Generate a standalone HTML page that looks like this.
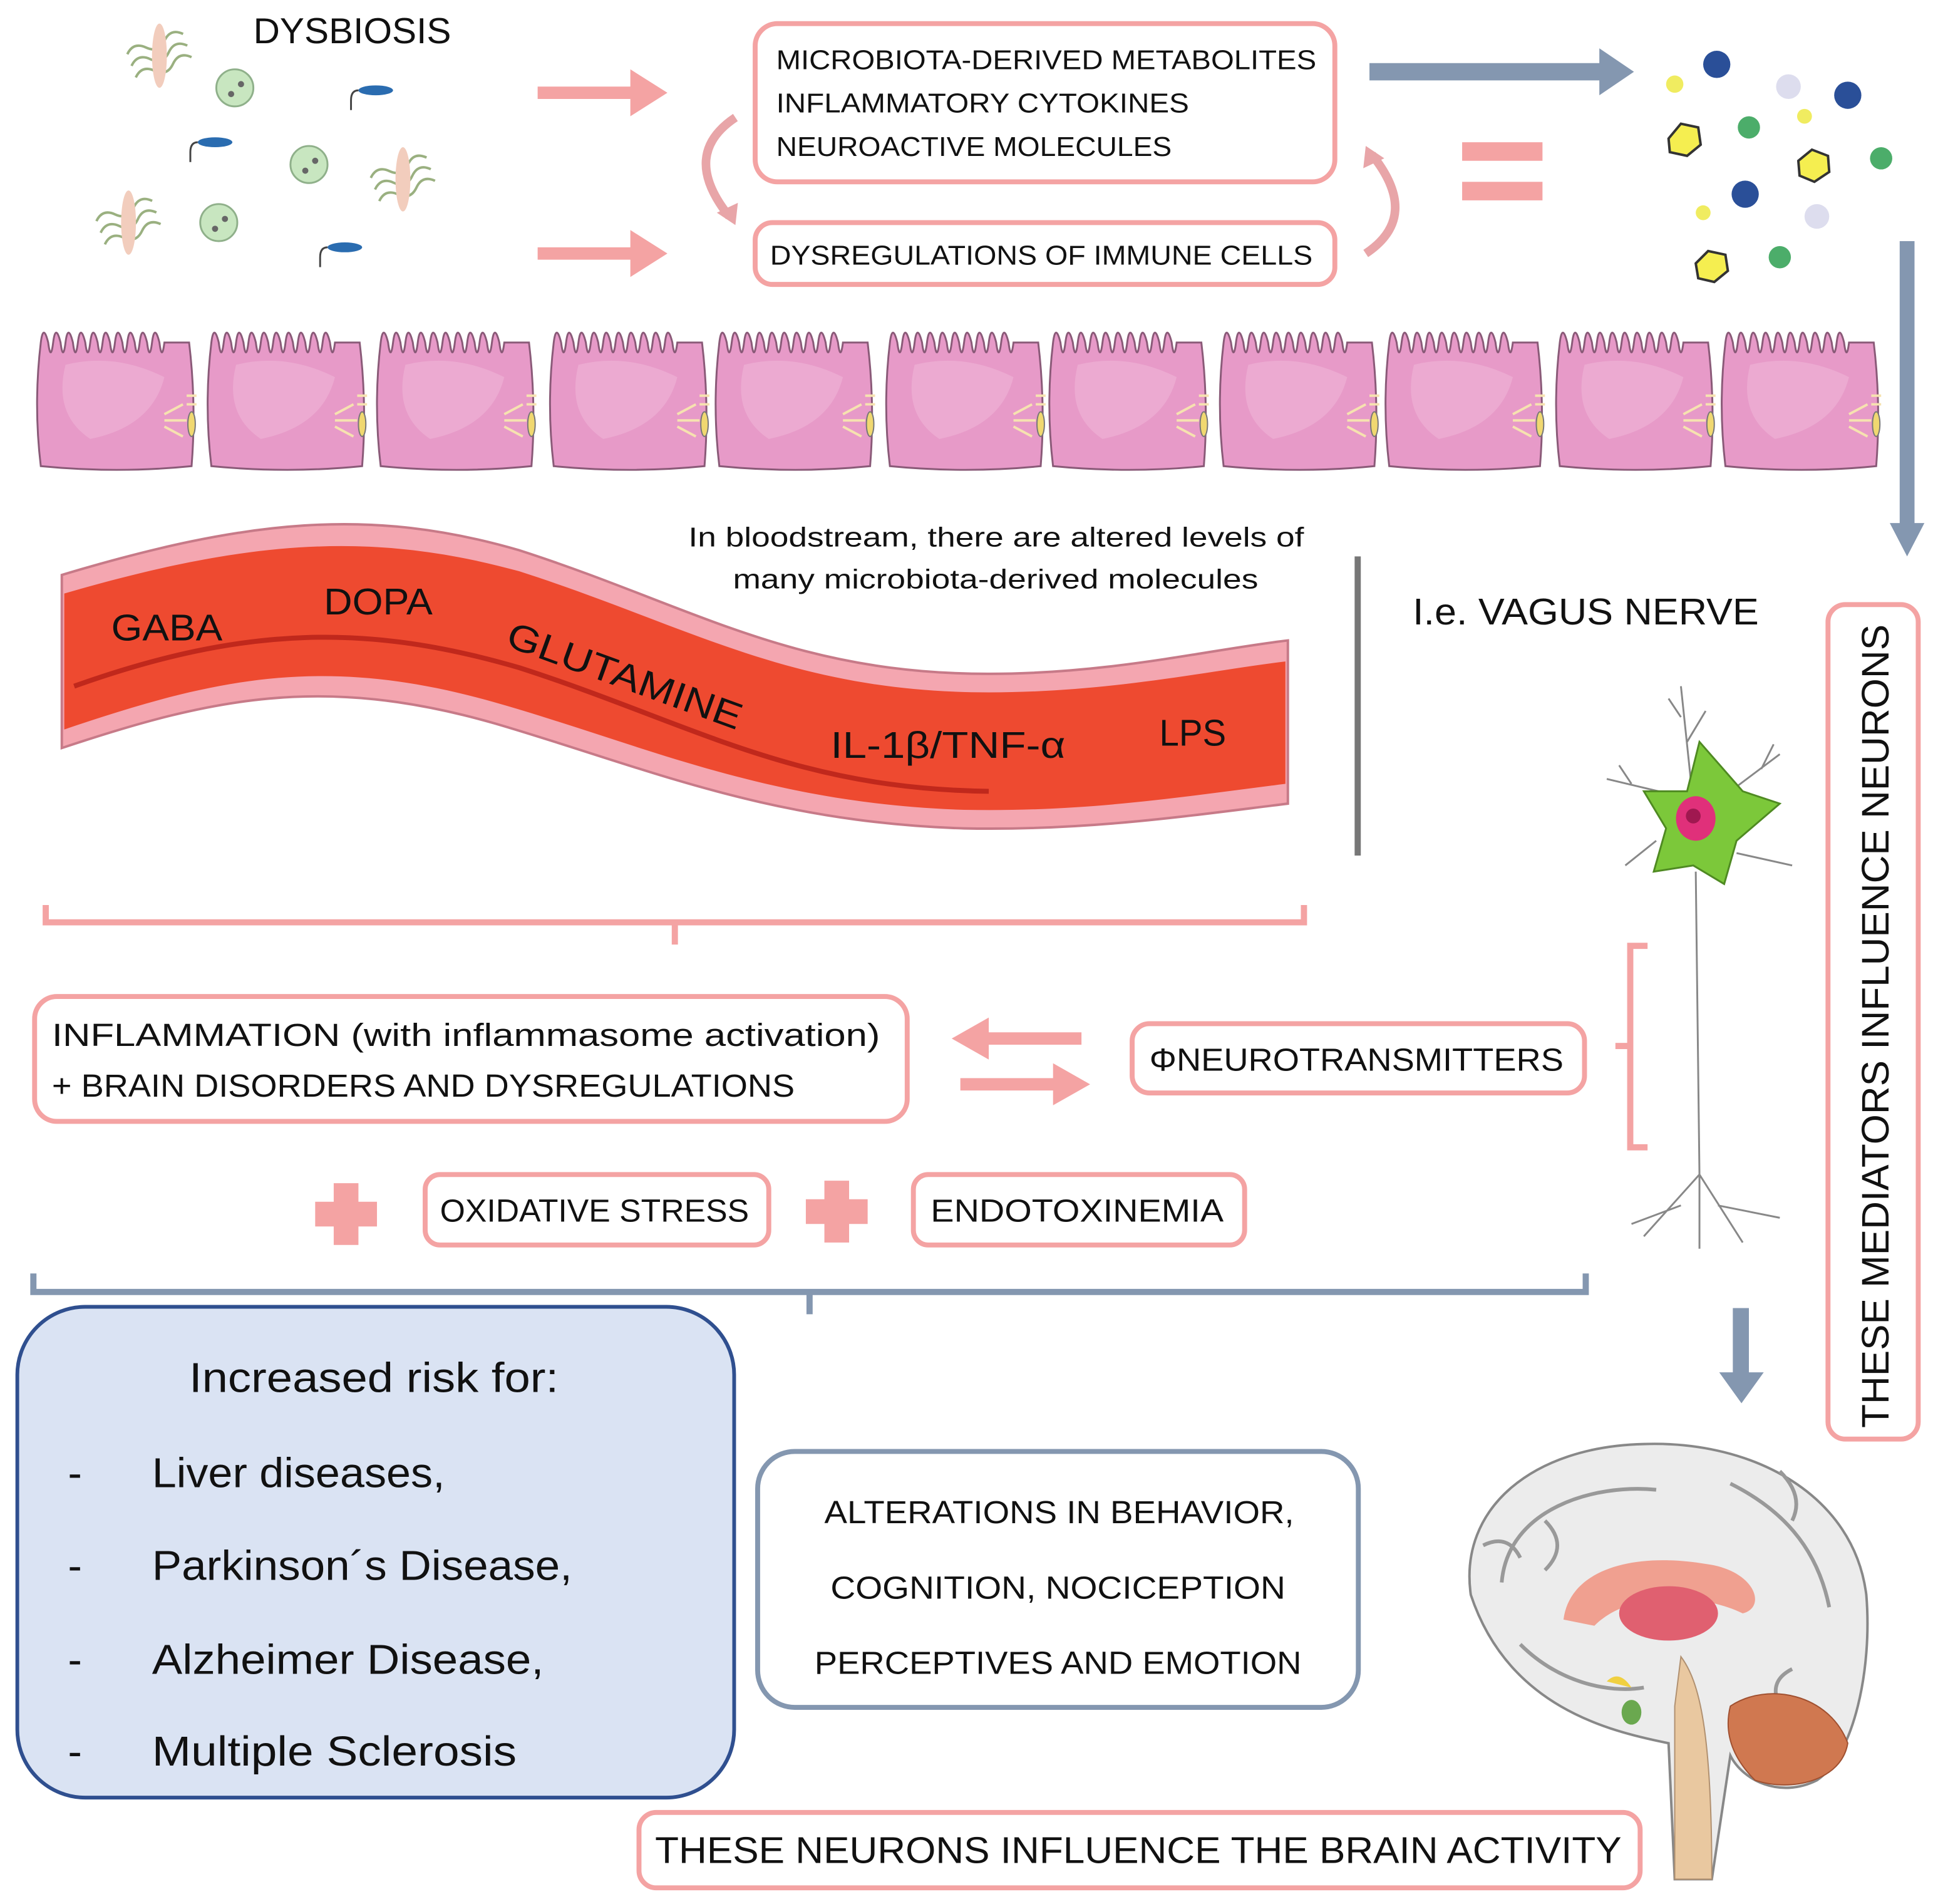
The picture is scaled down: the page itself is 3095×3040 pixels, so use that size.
<!DOCTYPE html>
<html><head><meta charset="utf-8"><style>
html,body{margin:0;padding:0;background:#fff}
svg{display:block}
text{font-family:"Liberation Sans",sans-serif;fill:#111}
</style></head><body>
<svg width="3095" height="3040" viewBox="0 0 1568 1540" xmlns="http://www.w3.org/2000/svg">
<defs>
<g id="cell">
<path d="M0,22 q2,-16 6,0 q2,16 4,0 q2,-16 6,0 q2,16 4,0 q2,-16 6,0 q2,16 4,0 q2,-16 6,0 q2,16 4,0 q2,-16 6,0 q2,16 4,0 q2,-16 6,0 q2,16 4,0 q2,-16 6,0 q2,16 4,0 q2,-16 6,0 q2,16 4,0 q2,-16 6,0 q2,16 4,0 q2,-16 6,0 q2,16 4,0 L120,22 q6,50 2,100 q-60,6 -122,0 q-6,-50 0,-100z" fill="#e79ac8" stroke="#8a5a78" stroke-width="1.5"/>
<path d="M20,40 q40,-10 80,10 q-10,40 -60,50 q-30,-20 -20,-60z" fill="#eeb0d4" opacity="0.7"/>
<path d="M100,80 l15,-8 M100,85 l18,0 M100,90 l15,8 M118,65 h8 M118,72 h8" stroke="#f6e2b0" stroke-width="2"/>
<ellipse cx="122" cy="88" rx="3" ry="10" fill="#f0d870" stroke="#777"/>
</g>
<g id="bac1"><path d="M0,0 q8,-8 16,0 q8,8 16,0 q8,-8 16,0 M0,10 q8,-8 16,0 q8,8 16,0 q8,-8 16,0 M0,20 q8,-8 16,0 q8,8 16,0 q8,-8 16,0" fill="none" stroke="#9ab080" stroke-width="2" transform="rotate(-20 24 10)"/><ellipse cx="24" cy="10" rx="6" ry="26" fill="#f2cdbd"/></g>
<g id="bac2"><circle r="15" fill="#c8e6c0" stroke="#8fb08a" stroke-width="1.5"/><circle cx="5" cy="-3" r="2.5" fill="#666"/><circle cx="-3" cy="5" r="2.5" fill="#666"/></g>
<g id="bac3"><path d="M0,0 q-6,0 -6,8 v8" fill="none" stroke="#444" stroke-width="1.5"/><ellipse cx="14" cy="0" rx="14" ry="4" fill="#2a6cb0"/></g>
</defs>

<use href="#bac1" x="105" y="35"/><use href="#bac1" x="302" y="135"/><use href="#bac1" x="80" y="170"/>
<use href="#bac2" x="190" y="71"/><use href="#bac2" x="250" y="133"/><use href="#bac2" x="177" y="180"/>
<use href="#bac3" x="290" y="73"/><use href="#bac3" x="160" y="115"/><use href="#bac3" x="265" y="200"/>
<text x="205" y="35" font-size="29" textLength="160" lengthAdjust="spacingAndGlyphs">DYSBIOSIS</text>

<path d="M435,70 h75 v-14 l30,19 -30,19 v-14 h-75z" fill="#f4a3a3"/>
<path d="M435,200 h75 v-14 l30,19 -30,19 v-14 h-75z" fill="#f4a3a3"/>

<rect x="611" y="19" width="469" height="128" rx="18" fill="#fff" stroke="#f4a3a3" stroke-width="4"/>
<text x="628" y="56" font-size="22" textLength="437" lengthAdjust="spacingAndGlyphs">MICROBIOTA-DERIVED METABOLITES</text>
<text x="628" y="91" font-size="22" textLength="334" lengthAdjust="spacingAndGlyphs">INFLAMMATORY CYTOKINES</text>
<text x="628" y="126" font-size="22" textLength="320" lengthAdjust="spacingAndGlyphs">NEUROACTIVE MOLECULES</text>
<rect x="611" y="180" width="469" height="50" rx="14" fill="#fff" stroke="#f4a3a3" stroke-width="4"/>
<text x="623" y="214" font-size="22" textLength="439" lengthAdjust="spacingAndGlyphs">DYSREGULATIONS OF IMMUNE CELLS</text>
<path d="M595,95 q-45,30 -5,80" fill="none" stroke="#e8a5a8" stroke-width="7"/>
<path d="M580,172 l15,10 2,-18z" fill="#e8a5a8"/>
<path d="M1105,205 q45,-30 5,-80" fill="none" stroke="#e8a5a8" stroke-width="7"/>
<path d="M1120,128 l-15,-10 -2,18z" fill="#e8a5a8"/>

<path d="M1108,51 h186 v-12 l28,19 -28,19 v-12 h-186z" fill="#8497b0"/>
<rect x="1183" y="115" width="65" height="15" fill="#f4a3a3"/><rect x="1183" y="147" width="65" height="15" fill="#f4a3a3"/>

<circle cx="1389" cy="52" r="11" fill="#2a4f98"/><circle cx="1355" cy="68" r="7" fill="#f0ec60"/>
<circle cx="1447" cy="70" r="10" fill="#dde"/><circle cx="1495" cy="77" r="11" fill="#2a4f98"/>
<circle cx="1460" cy="94" r="6" fill="#f0ec60"/><circle cx="1415" cy="103" r="9" fill="#4cad6a"/>
<polygon points="1350,112 1360,100 1374,103 1376,117 1365,126 1351,123" fill="#f5ee50" stroke="#333" stroke-width="2"/>
<polygon points="1455,130 1466,121 1479,126 1480,139 1468,147 1456,142" fill="#f5ee50" stroke="#333" stroke-width="2"/>
<circle cx="1522" cy="128" r="9" fill="#4cad6a"/><circle cx="1412" cy="157" r="11" fill="#2a4f98"/>
<circle cx="1470" cy="175" r="10" fill="#dde"/><circle cx="1378" cy="172" r="6" fill="#f0ec60"/>
<polygon points="1372,213 1382,203 1396,206 1398,219 1387,228 1374,225" fill="#f5ee50" stroke="#333" stroke-width="2"/>
<circle cx="1440" cy="208" r="9" fill="#4cad6a"/>

<path d="M1537,195 h12 v228 h8 l-14,27 -14,-27 h8z" fill="#8497b0"/>

<g>
<use href="#cell" x="33" y="255"/><use href="#cell" x="171" y="255"/><use href="#cell" x="308" y="255"/>
<use href="#cell" x="448" y="255"/><use href="#cell" x="582" y="255"/><use href="#cell" x="720" y="255"/>
<use href="#cell" x="852" y="255"/><use href="#cell" x="990" y="255"/><use href="#cell" x="1124" y="255"/>
<use href="#cell" x="1262" y="255"/><use href="#cell" x="1396" y="255"/>
</g>

<path d="M50,465 C200,420 300,410 420,445 C560,490 640,545 800,545 C900,545 980,525 1042,518 L1042,650 C960,660 880,672 780,670 C620,665 520,620 400,585 C260,545 170,565 50,605z" fill="#f4a6b0" stroke="#c77a88" stroke-width="2"/>
<path d="M52,480 C200,437 300,429 420,462 C560,507 640,560 800,560 C900,560 980,542 1040,535 L1040,634 C960,644 880,657 780,655 C620,650 520,602 400,568 C260,528 170,550 52,590z" fill="#ee4a30"/>
<path d="M60,555 C200,505 300,505 420,540 C560,585 640,638 800,640" fill="none" stroke="#c0281c" stroke-width="4"/>
<text x="90" y="518" font-size="30" textLength="90" lengthAdjust="spacingAndGlyphs">GABA</text>
<text x="262" y="497" font-size="30" textLength="88" lengthAdjust="spacingAndGlyphs">DOPA</text>
<text x="408" y="522" font-size="30" transform="rotate(20 408 522)" textLength="200" lengthAdjust="spacingAndGlyphs">GLUTAMINE</text>
<text x="672" y="613" font-size="30" textLength="190" lengthAdjust="spacingAndGlyphs">IL-1β/TNF-α</text>
<text x="938" y="603" font-size="30" textLength="54" lengthAdjust="spacingAndGlyphs">LPS</text>
<text x="557" y="442" font-size="22" textLength="498" lengthAdjust="spacingAndGlyphs">In bloodstream, there are altered levels of</text>
<text x="593" y="476" font-size="22" textLength="425" lengthAdjust="spacingAndGlyphs">many microbiota-derived molecules</text>
<rect x="1096" y="450" width="5" height="242" fill="#777"/>
<text x="1143" y="505" font-size="30" textLength="280" lengthAdjust="spacingAndGlyphs">I.e. VAGUS NERVE</text>

<rect x="1479" y="489" width="73" height="675" rx="14" fill="#fff" stroke="#f4a3a3" stroke-width="4"/>
<text font-size="31" transform="translate(1528 1155) rotate(-90)" textLength="650" lengthAdjust="spacingAndGlyphs">THESE MEDIATORS INFLUENCE NEURONS</text>

<g stroke="#888" stroke-width="1.5" fill="none">
<path d="M1370,650 L1360,555 M1360,580 l-10,-15 M1365,600 l15,-25 M1342,640 L1300,630 M1320,634 l-10,-15 M1400,640 L1440,610 M1425,622 l10,-20 M1340,680 L1315,700 M1405,690 L1450,700 M1372,705 L1375,950 M1375,950 L1330,1000 M1375,950 L1410,1005 M1375,950 L1375,1010 M1360,975 l-40,15 M1390,975 l50,10"/>
</g>
<path d="M1375,600 L1410,640 L1440,650 L1405,680 L1395,715 L1370,700 L1338,705 L1348,670 L1330,640 L1365,640z" fill="#7cc83a" stroke="#4f8a22" stroke-width="1.5"/>
<ellipse cx="1372" cy="662" rx="16" ry="18" fill="#e0307a"/>
<circle cx="1370" cy="660" r="6" fill="#a01850"/>

<path d="M37,732 v14 h1018 v-14 M546,746 v18" fill="none" stroke="#f4a3a3" stroke-width="5"/>

<rect x="28" y="806" width="706" height="101" rx="18" fill="#fff" stroke="#f4a3a3" stroke-width="4"/>
<text x="42" y="846" font-size="26" textLength="670" lengthAdjust="spacingAndGlyphs">INFLAMMATION (with inflammasome activation)</text>
<text x="42" y="887" font-size="26" textLength="601" lengthAdjust="spacingAndGlyphs">+ BRAIN DISORDERS AND DYSREGULATIONS</text>
<path d="M875,835 h-75 v-12 l-30,17 30,17 v-12 h75z" fill="#f4a3a3"/>
<path d="M777,872 h75 v-12 l30,17 -30,17 v-12 h-75z" fill="#f4a3a3"/>
<rect x="916" y="828" width="366" height="56" rx="14" fill="#fff" stroke="#f4a3a3" stroke-width="4"/>
<text x="930" y="866" font-size="26" textLength="335" lengthAdjust="spacingAndGlyphs">ΦNEUROTRANSMITTERS</text>
<path d="M1333,765 h-14 v163 h14 M1319,846 h-12" fill="none" stroke="#f4a3a3" stroke-width="5"/>

<path d="M270,957 h20 v15 h15 v20 h-15 v15 h-20 v-15 h-15 v-20 h15z" fill="#f4a3a3"/>
<path d="M667,955 h20 v15 h15 v20 h-15 v15 h-20 v-15 h-15 v-20 h15z" fill="#f4a3a3"/>
<rect x="344" y="950" width="278" height="57" rx="12" fill="#fff" stroke="#f4a3a3" stroke-width="4"/>
<text x="356" y="988" font-size="26" textLength="250" lengthAdjust="spacingAndGlyphs">OXIDATIVE STRESS</text>
<rect x="739" y="950" width="268" height="57" rx="12" fill="#fff" stroke="#f4a3a3" stroke-width="4"/>
<text x="753" y="988" font-size="26" textLength="237" lengthAdjust="spacingAndGlyphs">ENDOTOXINEMIA</text>

<path d="M27,1030 v15 h1256 v-15 M655,1045 v18" fill="none" stroke="#8497b0" stroke-width="5"/>

<rect x="14" y="1057" width="580" height="397" rx="55" fill="#dae3f3" stroke="#2f4f8f" stroke-width="3"/>
<text x="153" y="1126" font-size="34" textLength="299" lengthAdjust="spacingAndGlyphs">Increased risk for:</text>
<g font-size="34">
<text x="55" y="1203">-</text><text x="123" y="1203" textLength="237" lengthAdjust="spacingAndGlyphs">Liver diseases,</text>
<text x="55" y="1278">-</text><text x="123" y="1278" textLength="340" lengthAdjust="spacingAndGlyphs">Parkinson´s Disease,</text>
<text x="55" y="1354">-</text><text x="123" y="1354" textLength="317" lengthAdjust="spacingAndGlyphs">Alzheimer Disease,</text>
<text x="55" y="1428">-</text><text x="123" y="1428" textLength="295" lengthAdjust="spacingAndGlyphs">Multiple Sclerosis</text>
</g>

<rect x="613" y="1174" width="486" height="207" rx="30" fill="#fff" stroke="#8497b0" stroke-width="4"/>
<text x="667" y="1232" font-size="26" textLength="380" lengthAdjust="spacingAndGlyphs">ALTERATIONS IN BEHAVIOR,</text>
<text x="672" y="1293" font-size="26" textLength="368" lengthAdjust="spacingAndGlyphs">COGNITION, NOCICEPTION</text>
<text x="659" y="1354" font-size="26" textLength="394" lengthAdjust="spacingAndGlyphs">PERCEPTIVES AND EMOTION</text>

<path d="M1402,1058 h13 v52 h12 l-18,25 -18,-25 h11z" fill="#8497b0"/>

<path d="M1190,1290 C1180,1220 1240,1170 1330,1168 C1420,1165 1500,1210 1510,1290 C1515,1350 1500,1420 1470,1440 C1440,1455 1410,1440 1400,1420 L1385,1520 L1355,1520 L1350,1410 C1300,1400 1220,1380 1190,1290z" fill="#ececec" stroke="#888" stroke-width="2"/>
<path d="M1215,1280 C1220,1220 1290,1200 1340,1205 M1230,1330 C1260,1360 1300,1370 1330,1365 M1400,1200 C1440,1220 1470,1250 1480,1300 M1250,1230 q20,20 0,40 M1450,1350 q-20,10 -10,30 M1200,1250 q20,-10 30,10 M1440,1190 q20,20 10,40" fill="none" stroke="#999" stroke-width="3"/>
<path d="M1265,1310 C1270,1270 1320,1255 1380,1265 C1420,1270 1430,1300 1410,1305 C1380,1290 1320,1285 1290,1315z" fill="#f0a090"/>
<ellipse cx="1350" cy="1305" rx="40" ry="22" fill="#e06070"/>
<path d="M1400,1380 C1430,1360 1480,1370 1495,1410 C1490,1440 1450,1450 1420,1440 C1400,1420 1395,1400 1400,1380z" fill="#d07850" stroke="#a05030"/>
<path d="M1360,1340 C1375,1360 1385,1400 1385,1520 L1355,1520 L1355,1380z" fill="#e9c8a0" stroke="#b09070"/>
<ellipse cx="1320" cy="1385" rx="8" ry="10" fill="#6aa84f"/>
<path d="M1300,1360 q10,-10 20,5" fill="#f0d040"/>

<rect x="517" y="1466" width="810" height="61" rx="14" fill="#fff" stroke="#f4a3a3" stroke-width="4"/>
<text x="530" y="1507" font-size="30" textLength="782" lengthAdjust="spacingAndGlyphs">THESE NEURONS INFLUENCE THE BRAIN ACTIVITY</text>
</svg>
</body></html>
